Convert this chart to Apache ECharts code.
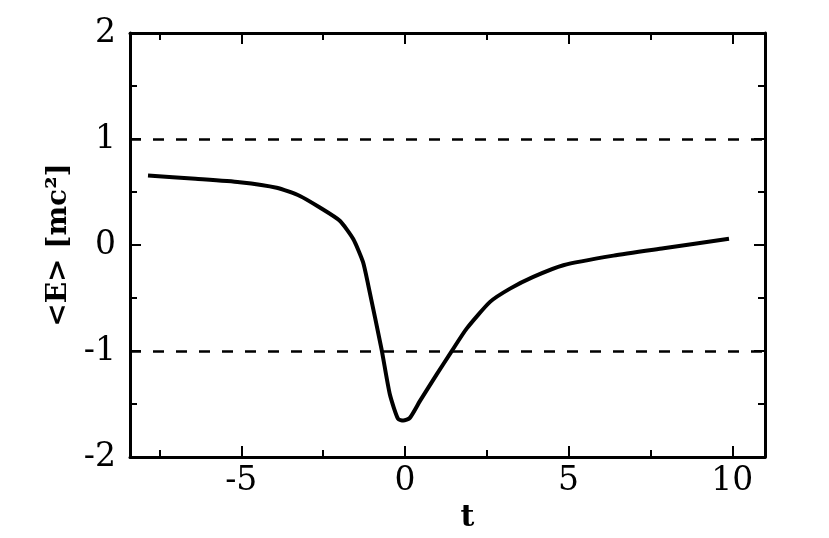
<!DOCTYPE html>
<html>
<head>
<meta charset="utf-8">
<script src="https://cdn.jsdelivr.net/npm/echarts@6/dist/echarts.min.js"></script>
<style>
  html, body { margin: 0; padding: 0; background: #fff; }
  #chart { width: 829px; height: 538px; }
</style>
</head>
<body>
<div id="chart"></div>
<script>
// values
const tValues = [-7.85, -6.4, -5.05, -3.92, -3.21, -2.6, -1.99, -1.58, -1.28, -1.12, -0.71, -0.46, -0.21, -0.05, 0.15, 0.46, 0.97, 1.43, 1.89, 2.6, 3.21, 3.92, 4.84, 6.37, 7.9, 9.9]
const energyValues = [0.656, 0.625, 0.593, 0.541, 0.463, 0.354, 0.229, 0.057, -0.161, -0.38, -0.99, -1.41, -1.64, -1.655, -1.63, -1.47, -1.22, -1.0, -0.786, -0.536, -0.411, -0.3, -0.19, -0.1, -0.03, 0.06]
const referenceLevels = [1, -1]
const xMajorTicks = [-5, 0, 5, 10]
const xMinorTicks = [-7.5, -2.5, 2.5, 7.5]

const font = 'DejaVu Serif'
const black = '#000'

const chart = echarts.init(document.getElementById('chart'))

// one x axis per tick set, so major and minor ticks get different lengths
function xAxis(pos, ticks, length, withLine, withLabels) {
  return {
    type: 'value',
    position: pos,
    min: -8.4,
    max: 11,
    gridIndex: 0,
    name: withLabels ? 't' : '',
    nameLocation: 'middle',
    nameGap: 34,
    nameTextStyle: { fontFamily: font, fontWeight: 'bold', fontSize: 30, color: black, padding: [0, 0, 0, 40] },
    axisLine: { show: withLine, onZero: false, lineStyle: { color: black, width: 3 } },
    axisTick: { show: true, inside: true, length: length, customValues: ticks, lineStyle: { color: black, width: 2 } },
    axisLabel: withLabels
      ? { show: true, customValues: ticks, margin: 8, fontFamily: font, fontSize: 33, color: black }
      : { show: false },
    splitLine: { show: false }
  }
}

function yAxis(pos, withLabels) {
  return {
    type: 'value',
    position: pos,
    min: -2,
    max: 2,
    interval: 1,
    name: withLabels ? '<E> [mc²]' : '',
    nameLocation: 'middle',
    nameGap: 56,
    nameTextStyle: { fontFamily: font, fontWeight: 'bold', fontSize: 28, color: black },
    axisLine: { show: true, onZero: false, lineStyle: { color: black, width: 3 } },
    axisTick: { show: true, inside: true, length: 11, lineStyle: { color: black, width: 2 } },
    minorTick: { show: true, splitNumber: 2, length: 7, lineStyle: { color: black, width: 2 } },
    axisLabel: withLabels
      ? { show: true, margin: 14, fontFamily: font, fontSize: 33, color: black }
      : { show: false },
    splitLine: { show: false }
  }
}

const option = {
  backgroundColor: '#fff',
  animation: false,
  grid: { left: 130, right: 64, top: 33, bottom: 78 },
  xAxis: [
    xAxis('bottom', xMajorTicks, 11, true, true),
    xAxis('bottom', xMinorTicks, 7, false, false),
    xAxis('top', xMajorTicks, 11, true, false),
    xAxis('top', xMinorTicks, 7, false, false)
  ],
  yAxis: [
    yAxis('left', true),
    yAxis('right', false)
  ],
  series: [
    {
      type: 'line',
      xAxisIndex: 0,
      yAxisIndex: 0,
      data: tValues.map((t, i) => [t, energyValues[i]]),
      smooth: 0.2,
      symbol: 'none',
      lineStyle: { color: black, width: 4 },
      markLine: {
        silent: true,
        symbol: 'none',
        label: { show: false },
        lineStyle: { color: black, width: 2.5, type: [11, 12] },
        data: referenceLevels.map(v => ({ yAxis: v }))
      }
    }
  ]
}

chart.setOption(option)
</script>
</body>
</html>
